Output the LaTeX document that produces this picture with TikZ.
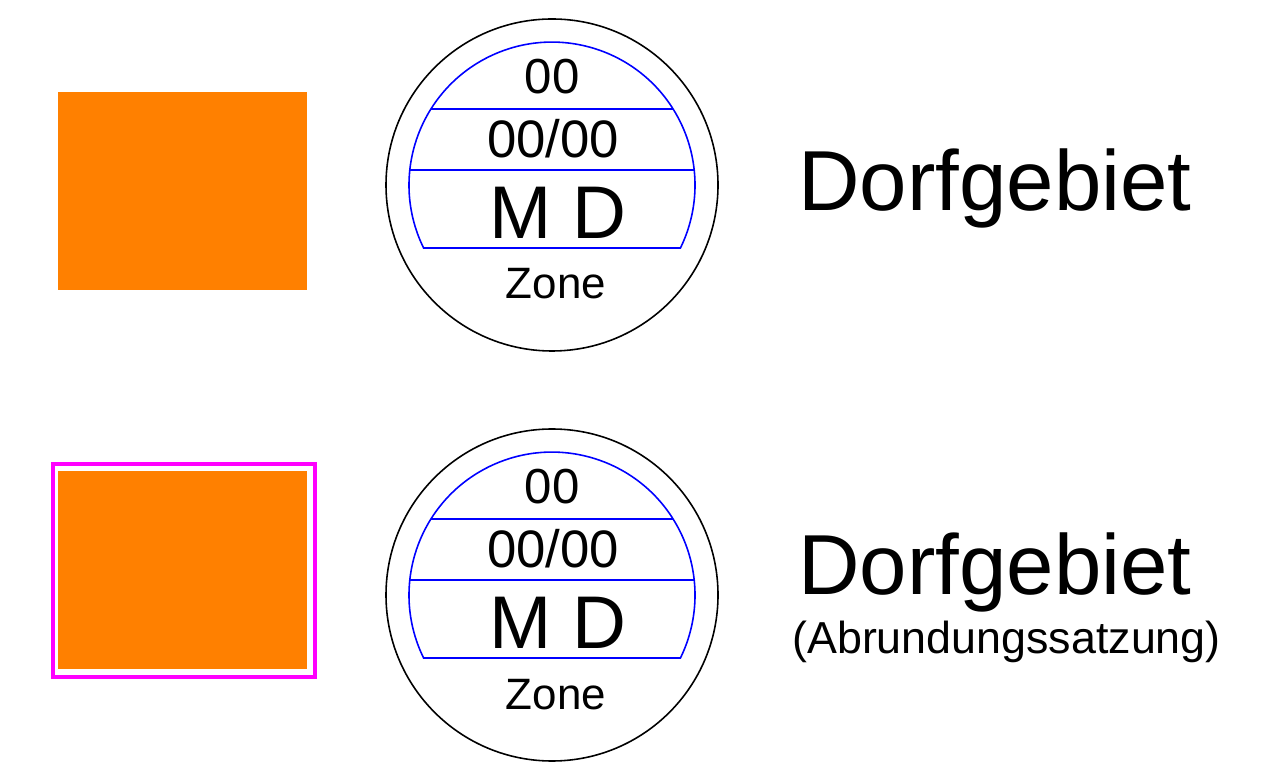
\documentclass[tikz,border=0pt]{standalone}
\usepackage{fontspec}
\setmainfont{Liberation Sans}
\usetikzlibrary{positioning}
\definecolor{dorforange}{HTML}{FF8000}
\definecolor{abrundung}{HTML}{FF00FF}

\begin{document}
\begin{tikzpicture}[x=0.02cm, y=0.02cm,
  ring/.style={draw=black, line width=0.9pt},
  field/.style={draw=blue, line width=0.9pt},
  zonetext/.style={anchor=base, inner sep=0pt},
  legendtext/.style={anchor=base west, inner sep=0pt}]

  \useasboundingbox (0,0) rectangle (1274,764);

  % Flaechen
  \fill[dorforange] (58,474) rectangle (307,672);
  \fill[dorforange] (58,95) rectangle (307,293);
  \draw[abrundung, line width=2pt] (53,87) rectangle (315,300);

  % Planzeichen
  \foreach \n/\y in {a/579, b/169} {
    \begin{scope}[shift={(552,\y)}]
      \draw[ring] (0,0) circle (166);
      \draw[field] (-128.4,-63) arc (206.1:-26.1:143) -- cycle;
      \draw[field] (-121.1,76) -- (121.1,76);
      \draw[field] (-142.2,15) -- (142.2,15);
      \node[zonetext, font=\fontsize{28}{30}\selectfont] (grz\n) at (0,91) {00};
      \node[zonetext, font=\fontsize{30}{32}\selectfont] (gfz\n) at (1,27) {00/00};
      \node[zonetext, font=\fontsize{42.5}{46}\selectfont] (art\n) at (6,-54) {M D};
      \node[zonetext, font=\fontsize{25}{28}\selectfont] (zone\n) at (4,-114) {Zone};
    \end{scope}
  }

  % Beschriftung
  \node[legendtext, font=\fontsize{48.5}{50}\selectfont] (dorfa) at (798,553) {Dorfgebiet};
  \node[legendtext, font=\fontsize{48.5}{50}\selectfont] (dorfb) at (798,169) {Dorfgebiet};
  \node[legendtext, font=\fontsize{25.5}{28}\selectfont] (abrund) at (792,111) {(Abrundungssatzung)};
\end{tikzpicture}
\end{document}
